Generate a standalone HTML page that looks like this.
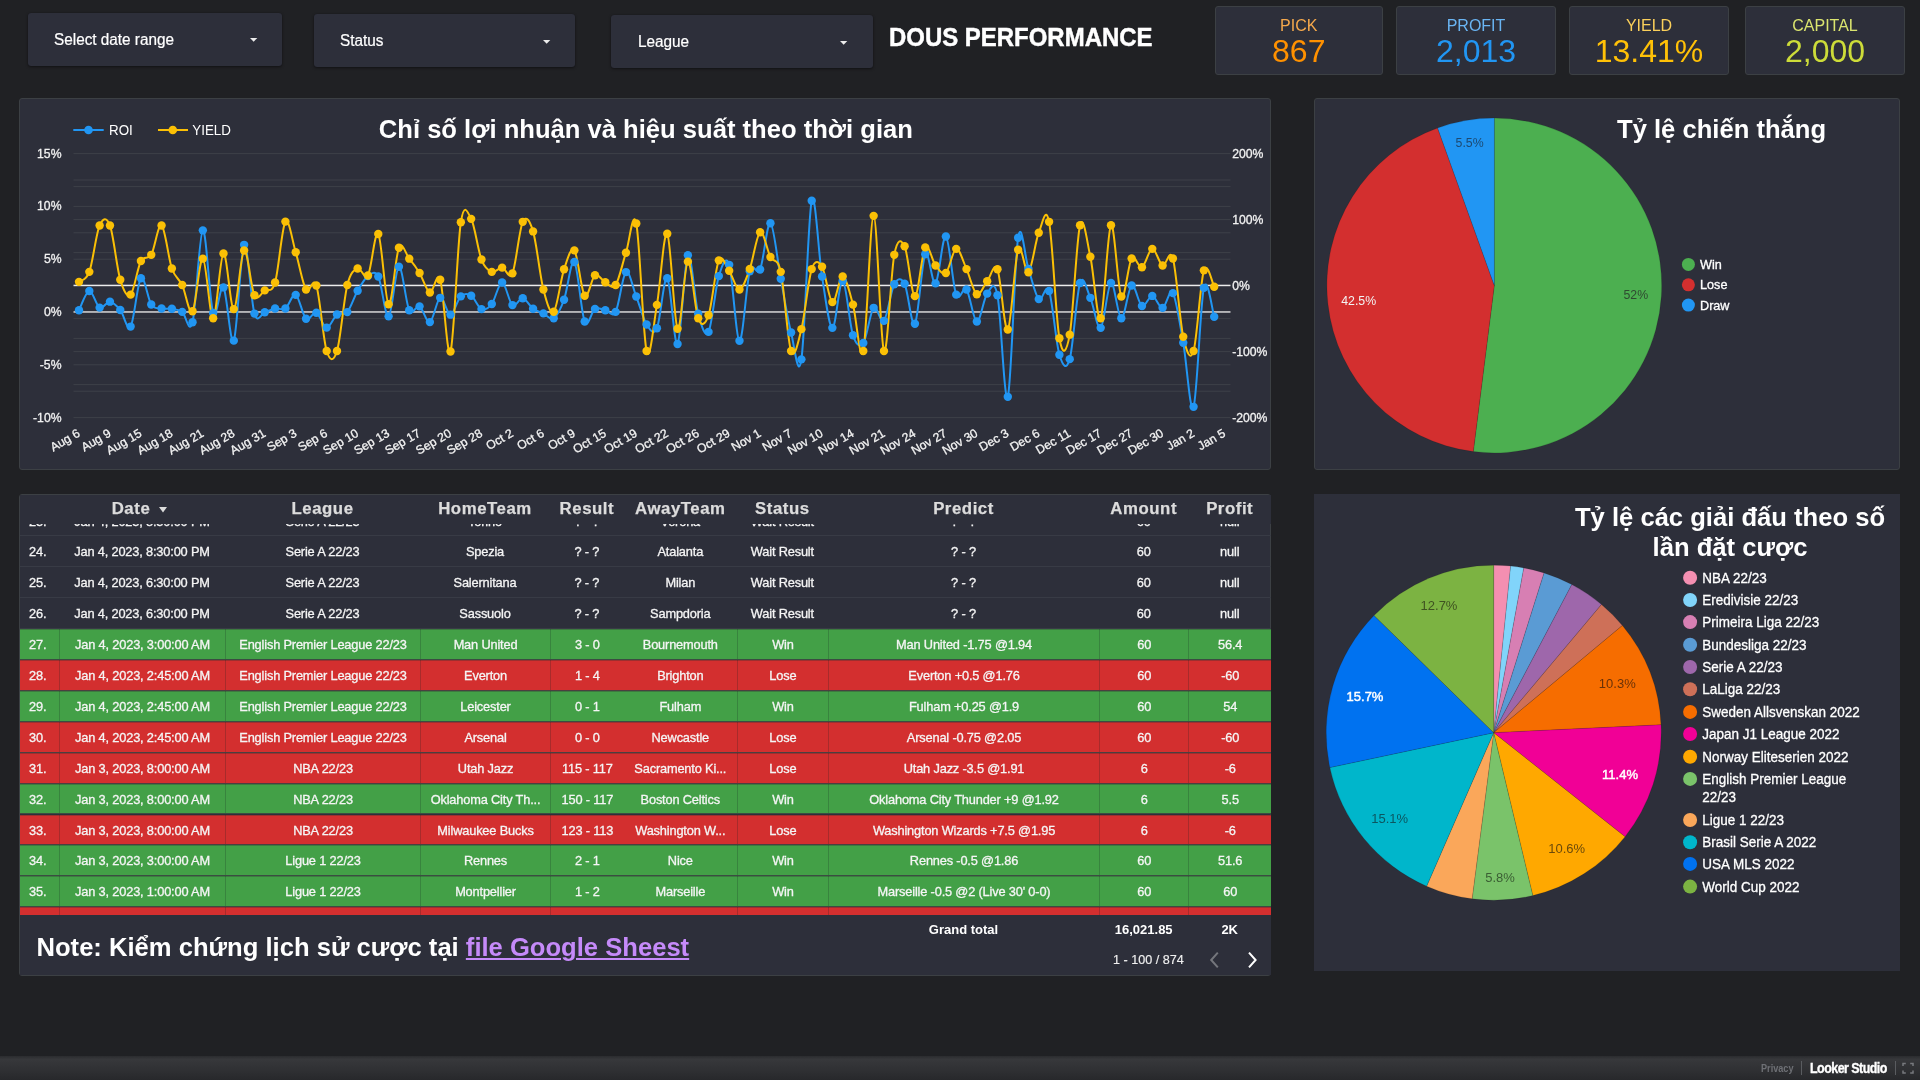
<!DOCTYPE html>
<html><head><meta charset="utf-8"><title>DOUS PERFORMANCE</title>
<style>
html,body{margin:0;padding:0;background:#202124;}
body{width:1920px;height:1080px;position:relative;overflow:hidden;font-family:"Liberation Sans", sans-serif;color:#fff;}
.abs{position:absolute;}
.panel{position:absolute;background:#2d2f3a;box-sizing:border-box;border:1px solid #3c4044;border-radius:3px;}
.dd{position:absolute;background:#2d2f3a;border-radius:3px;box-shadow:0 1px 3px rgba(0,0,0,.45),0 0 1px rgba(0,0,0,.4);height:53px;}
.dd span{position:absolute;font-size:15.6px;white-space:nowrap;color:#fff;transform-origin:0 50%;transform:scaleX(.982);-webkit-text-stroke:.2px #fff;}
.dd i{position:absolute;width:0;height:0;border-left:3.6px solid transparent;border-right:3.6px solid transparent;border-top:3.8px solid #e8e8e8;}
.card{position:absolute;top:6px;height:69px;background:#2d2f3a;box-sizing:border-box;border:1px solid #3c4044;border-radius:3px;text-align:center;}
.card .l{position:absolute;left:0;right:0;top:10px;font-size:16px;line-height:18px;}
.card .v{position:absolute;left:0;right:0;top:26.2px;font-size:32px;line-height:36px;}
.title{position:absolute;font-weight:700;font-size:25.6px;white-space:nowrap;color:#fff;line-height:30px;}
svg text{font-family:"Liberation Sans", sans-serif;}
.sb{-webkit-text-stroke:.3px currentColor;}
/* table */
#tbl{position:absolute;left:20px;top:495px;width:1251px;height:420px;overflow:hidden;}
.row{position:absolute;left:0;width:1251px;height:29.9px;border-bottom:1px solid #383b45;box-sizing:content-box;}
.row.g{background:#43a047;border-bottom-color:#3b4c42;box-shadow:inset 0 1px 0 rgba(45,50,50,.33);}
.row.r{background:#d32f2f;border-bottom-color:#4a3f40;box-shadow:inset 0 1px 0 rgba(45,50,50,.33);}
.c{position:absolute;top:0;height:29.9px;line-height:31.6px;font-size:12.8px;letter-spacing:-.17px;text-align:center;white-space:nowrap;overflow:hidden;color:#f5f5f5;-webkit-text-stroke:.3px #f5f5f5;box-sizing:border-box;}
.row.g .c,.row.r .c{border-left:1px solid rgba(20,30,30,.22);}
.row .c:first-child{border-left:none;text-align:left;padding-left:9px;}
#thead{position:absolute;left:20px;top:495px;width:1251px;height:29.2px;background:#2d2f3a;z-index:3;}
.h{position:absolute;top:0;height:28px;line-height:28px;font-size:16.8px;letter-spacing:.55px;font-weight:700;color:#dcdcdc;-webkit-text-stroke:.25px #dcdcdc;text-align:center;white-space:nowrap;}
</style></head><body><div id="root" style="position:absolute;left:0;top:0;width:1920px;height:1080px;will-change:transform">

<div class="dd" style="left:28px;top:13px;width:254px"><span style="left:25.9px;top:16.5px;line-height:20px">Select date range</span><svg style="position:absolute;left:221px;top:24px" width="10" height="7" viewBox="0 0 10 7"><path d="M1,1H8.3L4.65,4.7Z" fill="#ececec"/></svg></div>
<div class="dd" style="left:314px;top:14px;width:261px"><span style="left:25.600000000000023px;top:16.5px;line-height:20px">Status</span><svg style="position:absolute;left:227.5px;top:25px" width="10" height="7" viewBox="0 0 10 7"><path d="M1,1H8.3L4.65,4.7Z" fill="#ececec"/></svg></div>
<div class="dd" style="left:611px;top:15px;width:261.5px"><span style="left:27px;top:16.5px;line-height:20px">League</span><svg style="position:absolute;left:227.70000000000005px;top:25px" width="10" height="7" viewBox="0 0 10 7"><path d="M1,1H8.3L4.65,4.7Z" fill="#ececec"/></svg></div>
<div class="abs" style="left:889.3px;top:21.5px;font-size:25.2px;line-height:30px;font-weight:700;white-space:nowrap;transform-origin:0 50%;transform:scaleX(.951);-webkit-text-stroke:.45px #fff">DOUS PERFORMANCE</div>
<div class="card" style="left:1215px;width:167.5px"><div class="l" style="color:#f6a94c">PICK</div><div class="v" style="color:#ff9100">867</div></div>
<div class="card" style="left:1396px;width:160px"><div class="l" style="color:#6ab5f3">PROFIT</div><div class="v" style="color:#2196f3">2,013</div></div>
<div class="card" style="left:1569px;width:160px"><div class="l" style="color:#fbd05a">YIELD</div><div class="v" style="color:#ffc107">13.41%</div></div>
<div class="card" style="left:1745px;width:160px"><div class="l" style="color:#dbe56f">CAPITAL</div><div class="v" style="color:#cddc39">2,000</div></div>
<div class="panel" style="left:19px;top:98px;width:1252.4px;height:372px"></div>
<div class="panel" style="left:1314px;top:98px;width:586px;height:372px"></div>
<div class="panel" style="left:19px;top:494px;width:1252.4px;height:481.5px"></div>
<div class="abs" style="left:1314px;top:494px;width:586px;height:477px;background:#2d2f3a"></div>
<div class="title" style="left:378.8px;top:114.3px">Chỉ số lợi nhuận và hiệu suất theo thời gian</div>
<div class="title" style="left:1617px;top:114.3px">Tỷ lệ chiến thắng</div>
<div class="title" style="left:1560px;top:502px;width:340px;text-align:center;white-space:normal;line-height:30px">Tỷ lệ các giải đấu theo số<br>lần đặt cược</div>
<svg class="abs" style="left:0;top:0" width="1920" height="1080" viewBox="0 0 1920 1080">
<rect x="73.5" y="179.5" width="1157.0" height="1" fill="#3e4149"/>
<rect x="73.5" y="186.1" width="1157.0" height="1" fill="#3e4149"/>
<rect x="73.5" y="232.3" width="1157.0" height="1" fill="#3e4149"/>
<rect x="73.5" y="252.1" width="1157.0" height="1" fill="#3e4149"/>
<rect x="73.5" y="318.1" width="1157.0" height="1" fill="#3e4149"/>
<rect x="73.5" y="337.9" width="1157.0" height="1" fill="#3e4149"/>
<rect x="73.5" y="384.1" width="1157.0" height="1" fill="#3e4149"/>
<rect x="73.5" y="390.7" width="1157.0" height="1" fill="#3e4149"/>
<rect x="73.5" y="153.1" width="1157.0" height="1" fill="#3e4149"/>
<rect x="73.5" y="205.9" width="1157.0" height="1" fill="#3e4149"/>
<rect x="73.5" y="219.1" width="1157.0" height="1" fill="#3e4149"/>
<rect x="73.5" y="258.7" width="1157.0" height="1" fill="#3e4149"/>
<rect x="73.5" y="351.1" width="1157.0" height="1" fill="#3e4149"/>
<rect x="73.5" y="364.3" width="1157.0" height="1" fill="#3e4149"/>
<rect x="73.5" y="417.1" width="1157.0" height="1" fill="#3e4149"/>
<rect x="73.5" y="284.7" width="1157.0" height="1.5" fill="#ececec"/>
<rect x="73.5" y="311.1" width="1157.0" height="1.7" fill="#c4c4c6"/>
<path d="M79.0,310.19C80.72,307.00 85.88,291.46 89.32,291.03C92.76,290.60 96.20,305.86 99.64,307.63C103.08,309.40 106.52,301.28 109.96,301.67C113.40,302.06 116.84,305.82 120.28,309.97C123.72,314.12 127.16,331.87 130.6,326.58C134.04,321.29 137.48,281.94 140.92,278.25C144.36,274.56 147.80,299.40 151.24,304.44C154.68,309.48 158.12,307.77 161.56,308.48C165.00,309.19 168.44,308.13 171.88,308.7C175.32,309.27 178.76,309.62 182.2,311.89C185.64,314.16 189.08,335.91 192.52,322.32C195.96,308.73 199.40,231.91 202.84,230.35C206.28,228.79 209.72,303.44 213.16,312.95C216.60,322.46 220.04,282.80 223.48,287.41C226.92,292.02 230.36,347.73 233.8,340.63C237.24,333.53 240.68,249.34 244.12,244.83C247.56,240.32 251.00,302.34 254.44,313.59C257.88,324.84 261.32,313.17 264.76,312.32C268.20,311.47 271.64,309.12 275.08,308.48C278.52,307.84 281.96,310.75 285.4,308.48C288.84,306.21 292.28,293.16 295.72,294.86C299.16,296.56 302.60,315.72 306.04,318.7C309.48,321.68 312.92,311.25 316.36,312.74C319.80,314.23 323.24,327.36 326.68,327.64C330.12,327.92 333.56,317.03 337.0,314.44C340.44,311.85 343.88,316.04 347.32,312.1C350.76,308.16 354.20,296.81 357.64,290.81C361.08,284.81 364.52,278.50 367.96,276.12C371.40,273.74 374.84,269.84 378.28,276.55C381.72,283.26 385.16,317.99 388.6,316.36C392.04,314.73 395.48,267.78 398.92,266.75C402.36,265.72 405.80,303.59 409.24,310.19C412.68,316.79 416.12,304.36 419.56,306.35C423.00,308.34 426.44,323.53 429.88,322.11C433.32,320.69 436.76,299.08 440.2,297.84C443.64,296.60 447.08,314.91 450.52,314.66C453.96,314.41 457.40,299.51 460.84,296.35C464.28,293.19 467.72,293.58 471.16,295.71C474.60,297.84 478.04,307.74 481.48,309.12C484.92,310.50 488.36,308.44 491.8,304.01C495.24,299.57 498.68,282.33 502.12,282.51C505.56,282.69 509.00,302.45 512.44,305.08C515.88,307.70 519.32,297.66 522.76,298.26C526.20,298.86 529.64,306.18 533.08,308.7C536.52,311.22 539.96,311.78 543.4,313.38C546.84,314.98 550.28,320.55 553.72,318.28C557.16,316.01 560.60,309.12 564.04,299.75C567.48,290.38 570.92,258.45 574.36,262.07C577.80,265.69 581.24,313.66 584.68,321.47C588.12,329.28 591.56,310.79 595.0,308.91C598.44,307.03 601.88,309.69 605.32,310.19C608.76,310.69 612.20,318.24 615.64,311.89C619.08,305.54 622.52,274.63 625.96,272.08C629.40,269.52 632.84,287.83 636.28,296.56C639.72,305.29 643.16,319.16 646.6,324.45C650.04,329.74 653.48,335.98 656.92,328.28C660.36,320.58 663.80,275.62 667.24,278.25C670.68,280.88 674.12,347.87 677.56,344.04C681.00,340.21 684.44,260.30 687.88,255.26C691.32,250.22 694.76,301.04 698.2,313.81C701.64,326.58 705.08,338.18 708.52,331.9C711.96,325.62 715.40,287.30 718.84,276.12C722.28,264.94 725.72,254.05 729.16,264.84C732.60,275.63 736.04,339.77 739.48,340.84C742.92,341.90 746.36,283.12 749.8,271.23C753.24,259.34 756.68,277.50 760.12,269.52C763.56,261.53 767.00,221.79 770.44,223.32C773.88,224.85 777.32,260.48 780.76,278.68C784.20,296.88 787.64,319.09 791.08,332.54C794.52,345.99 797.96,381.34 801.4,359.37C804.84,337.40 808.28,214.55 811.72,200.75C815.16,186.95 818.60,255.37 822.04,276.55C825.48,297.74 828.92,327.15 832.36,327.86C835.80,328.57 839.24,279.57 842.68,280.81C846.12,282.05 849.56,324.95 853.0,335.31C856.44,345.67 859.88,347.55 863.32,342.97C866.76,338.39 870.20,311.53 873.64,307.84C877.08,304.15 880.52,324.77 883.96,320.83C887.40,316.89 890.84,290.38 894.28,284.21C897.72,278.04 901.16,277.19 904.6,283.79C908.04,290.39 911.48,328.74 914.92,323.81C918.36,318.88 921.80,260.93 925.24,254.19C928.68,247.45 932.12,286.31 935.56,283.36C939.00,280.42 942.44,234.64 945.88,236.52C949.32,238.40 952.76,285.81 956.2,294.64C959.64,303.47 963.08,285.06 966.52,289.53C969.96,294.00 973.40,320.80 976.84,321.47C980.28,322.15 983.72,297.94 987.16,293.58C990.60,289.21 994.04,278.07 997.48,295.28C1000.92,312.49 1004.36,406.42 1007.8,396.84C1011.24,387.26 1014.68,259.13 1018.12,237.8C1021.56,216.47 1025.00,258.66 1028.44,268.88C1031.88,279.10 1035.32,295.43 1038.76,299.12C1042.20,302.81 1045.64,281.77 1049.08,291.03C1052.52,300.29 1055.96,343.33 1059.4,354.68C1062.84,366.03 1066.28,371.11 1069.72,359.15C1073.16,347.19 1076.60,293.15 1080.04,282.93C1083.48,272.71 1086.92,290.35 1090.36,297.84C1093.80,305.33 1097.24,330.35 1100.68,327.86C1104.12,325.38 1107.56,284.53 1111.0,282.93C1114.44,281.33 1117.88,317.85 1121.32,318.28C1124.76,318.71 1128.20,287.55 1131.64,285.49C1135.08,283.43 1138.52,304.19 1141.96,305.93C1145.40,307.67 1148.84,295.60 1152.28,295.92C1155.72,296.24 1159.16,308.30 1162.6,307.84C1166.04,307.38 1169.48,287.33 1172.92,293.15C1176.36,298.97 1179.80,323.81 1183.24,342.76C1186.68,361.71 1190.12,416.00 1193.56,406.84C1197.00,397.68 1200.44,302.84 1203.88,287.83C1207.32,272.82 1212.48,311.96 1214.2,316.79" fill="none" stroke="#2196f3" stroke-width="2" stroke-linejoin="round"/>
<path d="M79.0,281.87C80.72,280.20 85.88,281.26 89.32,271.86C92.76,262.46 96.20,233.19 99.64,225.45C103.08,217.71 106.52,216.40 109.96,225.45C113.40,234.50 116.84,268.21 120.28,279.74C123.72,291.27 127.16,297.76 130.6,294.64C134.04,291.52 137.48,267.64 140.92,261.01C144.36,254.38 147.80,260.76 151.24,254.83C154.68,248.90 158.12,223.18 161.56,225.45C165.00,227.72 168.44,258.52 171.88,268.46C175.32,278.39 178.76,277.93 182.2,285.06C185.64,292.19 189.08,315.65 192.52,311.25C195.96,306.85 199.40,257.49 202.84,258.66C206.28,259.83 209.72,319.13 213.16,318.28C216.60,317.43 220.04,255.08 223.48,253.55C226.92,252.02 230.36,309.62 233.8,309.12C237.24,308.62 240.68,252.88 244.12,250.57C247.56,248.26 251.00,288.64 254.44,295.28C257.88,301.92 261.32,292.52 264.76,290.39C268.20,288.26 271.64,293.97 275.08,282.51C278.52,271.05 281.96,226.66 285.4,221.62C288.84,216.58 292.28,240.96 295.72,252.28C299.16,263.60 302.60,283.99 306.04,289.53C309.48,295.06 312.92,275.24 316.36,285.49C319.80,295.75 323.24,340.13 326.68,351.06C330.12,361.99 333.56,362.06 337.0,351.06C340.44,340.06 343.88,298.83 347.32,285.06C350.76,271.29 354.20,270.06 357.64,268.46C361.08,266.86 364.52,281.23 367.96,275.48C371.40,269.73 374.84,229.18 378.28,233.97C381.72,238.76 385.16,301.92 388.6,304.23C392.04,306.54 395.48,255.41 398.92,247.81C402.36,240.22 405.80,254.47 409.24,258.66C412.68,262.85 416.12,267.29 419.56,272.93C423.00,278.57 426.44,291.38 429.88,292.52C433.32,293.65 436.76,269.91 440.2,279.74C443.64,289.57 447.08,361.07 450.52,351.49C453.96,341.91 457.40,244.37 460.84,222.26C464.28,200.15 467.72,212.64 471.16,218.85C474.60,225.06 478.04,250.68 481.48,259.52C484.92,268.35 488.36,270.51 491.8,271.86C495.24,273.21 498.68,267.36 502.12,267.61C505.56,267.86 509.00,280.98 512.44,273.35C515.88,265.72 519.32,228.82 522.76,221.83C526.20,214.84 529.64,220.13 533.08,231.41C536.52,242.69 539.96,276.15 543.4,289.53C546.84,302.91 550.28,315.05 553.72,311.68C557.16,308.31 560.60,279.53 564.04,269.31C567.48,259.09 570.92,245.96 574.36,250.36C577.80,254.76 581.24,291.56 584.68,295.71C588.12,299.86 591.56,277.50 595.0,275.27C598.44,273.03 601.88,280.67 605.32,282.3C608.76,283.93 612.20,289.99 615.64,285.06C619.08,280.13 622.52,262.95 625.96,252.7C629.40,242.45 632.84,207.15 636.28,223.54C639.72,239.93 643.16,337.51 646.6,351.06C650.04,364.61 653.48,324.41 656.92,304.86C660.36,285.31 663.80,229.78 667.24,233.75C670.68,237.72 674.12,324.06 677.56,328.71C681.00,333.36 684.44,263.38 687.88,261.64C691.32,259.90 694.76,309.34 698.2,318.28C701.64,327.22 705.08,324.95 708.52,315.3C711.96,305.65 715.40,267.79 718.84,260.37C722.28,252.95 725.72,265.94 729.16,270.8C732.60,275.66 736.04,289.85 739.48,289.53C742.92,289.21 746.36,278.43 749.8,268.88C753.24,259.33 756.68,234.25 760.12,232.26C763.56,230.27 767.00,250.36 770.44,256.96C773.88,263.56 777.32,256.18 780.76,271.86C784.20,287.54 787.64,341.51 791.08,351.06C794.52,360.61 797.96,342.79 801.4,329.13C804.84,315.47 808.28,279.50 811.72,269.1C815.16,258.70 818.60,261.25 822.04,266.75C825.48,272.25 828.92,300.47 832.36,302.1C835.80,303.73 839.24,276.12 842.68,276.55C846.12,276.98 849.56,292.23 853.0,304.65C856.44,317.07 859.88,365.86 863.32,351.06C866.76,336.26 870.20,215.87 873.64,215.87C877.08,215.87 880.52,344.57 883.96,351.06C887.40,357.55 890.84,272.29 894.28,254.83C897.72,237.37 901.16,239.44 904.6,246.32C908.04,253.20 911.48,295.95 914.92,296.13C918.36,296.31 921.80,252.49 925.24,247.38C928.68,242.27 932.12,261.22 935.56,265.48C939.00,269.74 942.44,275.70 945.88,272.93C949.32,270.16 952.76,249.51 956.2,248.87C959.64,248.23 963.08,261.54 966.52,269.1C969.96,276.66 973.40,292.20 976.84,294.22C980.28,296.24 983.72,285.38 987.16,281.23C990.60,277.08 994.04,261.25 997.48,269.31C1000.92,277.37 1004.36,332.82 1007.8,329.56C1011.24,326.30 1014.68,259.26 1018.12,249.72C1021.56,240.18 1025.00,275.13 1028.44,272.29C1031.88,269.45 1035.32,241.10 1038.76,232.69C1042.20,224.28 1045.64,204.23 1049.08,221.83C1052.52,239.43 1055.96,319.48 1059.4,338.29C1062.84,357.10 1066.28,353.51 1069.72,334.67C1073.16,315.83 1076.60,238.23 1080.04,225.24C1083.48,212.25 1086.92,241.24 1090.36,256.75C1093.80,272.26 1097.24,323.53 1100.68,318.28C1104.12,313.03 1107.56,228.86 1111.0,225.24C1114.44,221.62 1117.88,291.02 1121.32,296.56C1124.76,302.10 1128.20,263.35 1131.64,258.45C1135.08,253.55 1138.52,268.78 1141.96,267.18C1145.40,265.58 1148.84,249.15 1152.28,248.87C1155.72,248.59 1159.16,263.88 1162.6,265.48C1166.04,267.08 1169.48,246.56 1172.92,258.45C1176.36,270.34 1179.80,321.37 1183.24,336.8C1186.68,352.24 1190.12,362.13 1193.56,351.06C1197.00,339.99 1200.44,281.09 1203.88,270.37C1207.32,259.65 1212.48,284.04 1214.2,286.77" fill="none" stroke="#fbc005" stroke-width="2" stroke-linejoin="round"/>
<g fill="#2196f3"><circle cx="79.0" cy="310.19" r="4.2"/><circle cx="89.32" cy="291.03" r="4.2"/><circle cx="99.64" cy="307.63" r="4.2"/><circle cx="109.96" cy="301.67" r="4.2"/><circle cx="120.28" cy="309.97" r="4.2"/><circle cx="130.6" cy="326.58" r="4.2"/><circle cx="140.92" cy="278.25" r="4.2"/><circle cx="151.24" cy="304.44" r="4.2"/><circle cx="161.56" cy="308.48" r="4.2"/><circle cx="171.88" cy="308.7" r="4.2"/><circle cx="182.2" cy="311.89" r="4.2"/><circle cx="192.52" cy="322.32" r="4.2"/><circle cx="202.84" cy="230.35" r="4.2"/><circle cx="213.16" cy="312.95" r="4.2"/><circle cx="223.48" cy="287.41" r="4.2"/><circle cx="233.8" cy="340.63" r="4.2"/><circle cx="244.12" cy="244.83" r="4.2"/><circle cx="254.44" cy="313.59" r="4.2"/><circle cx="264.76" cy="312.32" r="4.2"/><circle cx="275.08" cy="308.48" r="4.2"/><circle cx="285.4" cy="308.48" r="4.2"/><circle cx="295.72" cy="294.86" r="4.2"/><circle cx="306.04" cy="318.7" r="4.2"/><circle cx="316.36" cy="312.74" r="4.2"/><circle cx="326.68" cy="327.64" r="4.2"/><circle cx="337.0" cy="314.44" r="4.2"/><circle cx="347.32" cy="312.1" r="4.2"/><circle cx="357.64" cy="290.81" r="4.2"/><circle cx="367.96" cy="276.12" r="4.2"/><circle cx="378.28" cy="276.55" r="4.2"/><circle cx="388.6" cy="316.36" r="4.2"/><circle cx="398.92" cy="266.75" r="4.2"/><circle cx="409.24" cy="310.19" r="4.2"/><circle cx="419.56" cy="306.35" r="4.2"/><circle cx="429.88" cy="322.11" r="4.2"/><circle cx="440.2" cy="297.84" r="4.2"/><circle cx="450.52" cy="314.66" r="4.2"/><circle cx="460.84" cy="296.35" r="4.2"/><circle cx="471.16" cy="295.71" r="4.2"/><circle cx="481.48" cy="309.12" r="4.2"/><circle cx="491.8" cy="304.01" r="4.2"/><circle cx="502.12" cy="282.51" r="4.2"/><circle cx="512.44" cy="305.08" r="4.2"/><circle cx="522.76" cy="298.26" r="4.2"/><circle cx="533.08" cy="308.7" r="4.2"/><circle cx="543.4" cy="313.38" r="4.2"/><circle cx="553.72" cy="318.28" r="4.2"/><circle cx="564.04" cy="299.75" r="4.2"/><circle cx="574.36" cy="262.07" r="4.2"/><circle cx="584.68" cy="321.47" r="4.2"/><circle cx="595.0" cy="308.91" r="4.2"/><circle cx="605.32" cy="310.19" r="4.2"/><circle cx="615.64" cy="311.89" r="4.2"/><circle cx="625.96" cy="272.08" r="4.2"/><circle cx="636.28" cy="296.56" r="4.2"/><circle cx="646.6" cy="324.45" r="4.2"/><circle cx="656.92" cy="328.28" r="4.2"/><circle cx="667.24" cy="278.25" r="4.2"/><circle cx="677.56" cy="344.04" r="4.2"/><circle cx="687.88" cy="255.26" r="4.2"/><circle cx="698.2" cy="313.81" r="4.2"/><circle cx="708.52" cy="331.9" r="4.2"/><circle cx="718.84" cy="276.12" r="4.2"/><circle cx="729.16" cy="264.84" r="4.2"/><circle cx="739.48" cy="340.84" r="4.2"/><circle cx="749.8" cy="271.23" r="4.2"/><circle cx="760.12" cy="269.52" r="4.2"/><circle cx="770.44" cy="223.32" r="4.2"/><circle cx="780.76" cy="278.68" r="4.2"/><circle cx="791.08" cy="332.54" r="4.2"/><circle cx="801.4" cy="359.37" r="4.2"/><circle cx="811.72" cy="200.75" r="4.2"/><circle cx="822.04" cy="276.55" r="4.2"/><circle cx="832.36" cy="327.86" r="4.2"/><circle cx="842.68" cy="280.81" r="4.2"/><circle cx="853.0" cy="335.31" r="4.2"/><circle cx="863.32" cy="342.97" r="4.2"/><circle cx="873.64" cy="307.84" r="4.2"/><circle cx="883.96" cy="320.83" r="4.2"/><circle cx="894.28" cy="284.21" r="4.2"/><circle cx="904.6" cy="283.79" r="4.2"/><circle cx="914.92" cy="323.81" r="4.2"/><circle cx="925.24" cy="254.19" r="4.2"/><circle cx="935.56" cy="283.36" r="4.2"/><circle cx="945.88" cy="236.52" r="4.2"/><circle cx="956.2" cy="294.64" r="4.2"/><circle cx="966.52" cy="289.53" r="4.2"/><circle cx="976.84" cy="321.47" r="4.2"/><circle cx="987.16" cy="293.58" r="4.2"/><circle cx="997.48" cy="295.28" r="4.2"/><circle cx="1007.8" cy="396.84" r="4.2"/><circle cx="1018.12" cy="237.8" r="4.2"/><circle cx="1028.44" cy="268.88" r="4.2"/><circle cx="1038.76" cy="299.12" r="4.2"/><circle cx="1049.08" cy="291.03" r="4.2"/><circle cx="1059.4" cy="354.68" r="4.2"/><circle cx="1069.72" cy="359.15" r="4.2"/><circle cx="1080.04" cy="282.93" r="4.2"/><circle cx="1090.36" cy="297.84" r="4.2"/><circle cx="1100.68" cy="327.86" r="4.2"/><circle cx="1111.0" cy="282.93" r="4.2"/><circle cx="1121.32" cy="318.28" r="4.2"/><circle cx="1131.64" cy="285.49" r="4.2"/><circle cx="1141.96" cy="305.93" r="4.2"/><circle cx="1152.28" cy="295.92" r="4.2"/><circle cx="1162.6" cy="307.84" r="4.2"/><circle cx="1172.92" cy="293.15" r="4.2"/><circle cx="1183.24" cy="342.76" r="4.2"/><circle cx="1193.56" cy="406.84" r="4.2"/><circle cx="1203.88" cy="287.83" r="4.2"/><circle cx="1214.2" cy="316.79" r="4.2"/></g>
<g fill="#fbc005"><circle cx="79.0" cy="281.87" r="4.2"/><circle cx="89.32" cy="271.86" r="4.2"/><circle cx="99.64" cy="225.45" r="4.2"/><circle cx="109.96" cy="225.45" r="4.2"/><circle cx="120.28" cy="279.74" r="4.2"/><circle cx="130.6" cy="294.64" r="4.2"/><circle cx="140.92" cy="261.01" r="4.2"/><circle cx="151.24" cy="254.83" r="4.2"/><circle cx="161.56" cy="225.45" r="4.2"/><circle cx="171.88" cy="268.46" r="4.2"/><circle cx="182.2" cy="285.06" r="4.2"/><circle cx="192.52" cy="311.25" r="4.2"/><circle cx="202.84" cy="258.66" r="4.2"/><circle cx="213.16" cy="318.28" r="4.2"/><circle cx="223.48" cy="253.55" r="4.2"/><circle cx="233.8" cy="309.12" r="4.2"/><circle cx="244.12" cy="250.57" r="4.2"/><circle cx="254.44" cy="295.28" r="4.2"/><circle cx="264.76" cy="290.39" r="4.2"/><circle cx="275.08" cy="282.51" r="4.2"/><circle cx="285.4" cy="221.62" r="4.2"/><circle cx="295.72" cy="252.28" r="4.2"/><circle cx="306.04" cy="289.53" r="4.2"/><circle cx="316.36" cy="285.49" r="4.2"/><circle cx="326.68" cy="351.06" r="4.2"/><circle cx="337.0" cy="351.06" r="4.2"/><circle cx="347.32" cy="285.06" r="4.2"/><circle cx="357.64" cy="268.46" r="4.2"/><circle cx="367.96" cy="275.48" r="4.2"/><circle cx="378.28" cy="233.97" r="4.2"/><circle cx="388.6" cy="304.23" r="4.2"/><circle cx="398.92" cy="247.81" r="4.2"/><circle cx="409.24" cy="258.66" r="4.2"/><circle cx="419.56" cy="272.93" r="4.2"/><circle cx="429.88" cy="292.52" r="4.2"/><circle cx="440.2" cy="279.74" r="4.2"/><circle cx="450.52" cy="351.49" r="4.2"/><circle cx="460.84" cy="222.26" r="4.2"/><circle cx="471.16" cy="218.85" r="4.2"/><circle cx="481.48" cy="259.52" r="4.2"/><circle cx="491.8" cy="271.86" r="4.2"/><circle cx="502.12" cy="267.61" r="4.2"/><circle cx="512.44" cy="273.35" r="4.2"/><circle cx="522.76" cy="221.83" r="4.2"/><circle cx="533.08" cy="231.41" r="4.2"/><circle cx="543.4" cy="289.53" r="4.2"/><circle cx="553.72" cy="311.68" r="4.2"/><circle cx="564.04" cy="269.31" r="4.2"/><circle cx="574.36" cy="250.36" r="4.2"/><circle cx="584.68" cy="295.71" r="4.2"/><circle cx="595.0" cy="275.27" r="4.2"/><circle cx="605.32" cy="282.3" r="4.2"/><circle cx="615.64" cy="285.06" r="4.2"/><circle cx="625.96" cy="252.7" r="4.2"/><circle cx="636.28" cy="223.54" r="4.2"/><circle cx="646.6" cy="351.06" r="4.2"/><circle cx="656.92" cy="304.86" r="4.2"/><circle cx="667.24" cy="233.75" r="4.2"/><circle cx="677.56" cy="328.71" r="4.2"/><circle cx="687.88" cy="261.64" r="4.2"/><circle cx="698.2" cy="318.28" r="4.2"/><circle cx="708.52" cy="315.3" r="4.2"/><circle cx="718.84" cy="260.37" r="4.2"/><circle cx="729.16" cy="270.8" r="4.2"/><circle cx="739.48" cy="289.53" r="4.2"/><circle cx="749.8" cy="268.88" r="4.2"/><circle cx="760.12" cy="232.26" r="4.2"/><circle cx="770.44" cy="256.96" r="4.2"/><circle cx="780.76" cy="271.86" r="4.2"/><circle cx="791.08" cy="351.06" r="4.2"/><circle cx="801.4" cy="329.13" r="4.2"/><circle cx="811.72" cy="269.1" r="4.2"/><circle cx="822.04" cy="266.75" r="4.2"/><circle cx="832.36" cy="302.1" r="4.2"/><circle cx="842.68" cy="276.55" r="4.2"/><circle cx="853.0" cy="304.65" r="4.2"/><circle cx="863.32" cy="351.06" r="4.2"/><circle cx="873.64" cy="215.87" r="4.2"/><circle cx="883.96" cy="351.06" r="4.2"/><circle cx="894.28" cy="254.83" r="4.2"/><circle cx="904.6" cy="246.32" r="4.2"/><circle cx="914.92" cy="296.13" r="4.2"/><circle cx="925.24" cy="247.38" r="4.2"/><circle cx="935.56" cy="265.48" r="4.2"/><circle cx="945.88" cy="272.93" r="4.2"/><circle cx="956.2" cy="248.87" r="4.2"/><circle cx="966.52" cy="269.1" r="4.2"/><circle cx="976.84" cy="294.22" r="4.2"/><circle cx="987.16" cy="281.23" r="4.2"/><circle cx="997.48" cy="269.31" r="4.2"/><circle cx="1007.8" cy="329.56" r="4.2"/><circle cx="1018.12" cy="249.72" r="4.2"/><circle cx="1028.44" cy="272.29" r="4.2"/><circle cx="1038.76" cy="232.69" r="4.2"/><circle cx="1049.08" cy="221.83" r="4.2"/><circle cx="1059.4" cy="338.29" r="4.2"/><circle cx="1069.72" cy="334.67" r="4.2"/><circle cx="1080.04" cy="225.24" r="4.2"/><circle cx="1090.36" cy="256.75" r="4.2"/><circle cx="1100.68" cy="318.28" r="4.2"/><circle cx="1111.0" cy="225.24" r="4.2"/><circle cx="1121.32" cy="296.56" r="4.2"/><circle cx="1131.64" cy="258.45" r="4.2"/><circle cx="1141.96" cy="267.18" r="4.2"/><circle cx="1152.28" cy="248.87" r="4.2"/><circle cx="1162.6" cy="265.48" r="4.2"/><circle cx="1172.92" cy="258.45" r="4.2"/><circle cx="1183.24" cy="336.8" r="4.2"/><circle cx="1193.56" cy="351.06" r="4.2"/><circle cx="1203.88" cy="270.37" r="4.2"/><circle cx="1214.2" cy="286.77" r="4.2"/></g>
<text x="61.5" y="158.1" text-anchor="end" font-size="12.2" fill="#f2f2f2" stroke="#f2f2f2" stroke-width=".3">15%</text>
<text x="61.5" y="210.1" text-anchor="end" font-size="12.2" fill="#f2f2f2" stroke="#f2f2f2" stroke-width=".3">10%</text>
<text x="61.5" y="263.1" text-anchor="end" font-size="12.2" fill="#f2f2f2" stroke="#f2f2f2" stroke-width=".3">5%</text>
<text x="61.5" y="316.1" text-anchor="end" font-size="12.2" fill="#f2f2f2" stroke="#f2f2f2" stroke-width=".3">0%</text>
<text x="61.5" y="369.1" text-anchor="end" font-size="12.2" fill="#f2f2f2" stroke="#f2f2f2" stroke-width=".3">-5%</text>
<text x="61.5" y="422.1" text-anchor="end" font-size="12.2" fill="#f2f2f2" stroke="#f2f2f2" stroke-width=".3">-10%</text>
<text x="1232.2" y="158.1" font-size="12.2" fill="#f2f2f2" stroke="#f2f2f2" stroke-width=".3">200%</text>
<text x="1232.2" y="224.1" font-size="12.2" fill="#f2f2f2" stroke="#f2f2f2" stroke-width=".3">100%</text>
<text x="1232.2" y="290.1" font-size="12.2" fill="#f2f2f2" stroke="#f2f2f2" stroke-width=".3">0%</text>
<text x="1232.2" y="356.1" font-size="12.2" fill="#f2f2f2" stroke="#f2f2f2" stroke-width=".3">-100%</text>
<text x="1232.2" y="422.1" font-size="12.2" fill="#f2f2f2" stroke="#f2f2f2" stroke-width=".3">-200%</text>
<text transform="translate(80.80,435.7) rotate(-30)" text-anchor="end" font-size="12.2" fill="#f2f2f2" stroke="#f2f2f2" stroke-width=".3">Aug 6</text>
<text transform="translate(111.76,435.7) rotate(-30)" text-anchor="end" font-size="12.2" fill="#f2f2f2" stroke="#f2f2f2" stroke-width=".3">Aug 9</text>
<text transform="translate(142.72,435.7) rotate(-30)" text-anchor="end" font-size="12.2" fill="#f2f2f2" stroke="#f2f2f2" stroke-width=".3">Aug 15</text>
<text transform="translate(173.68,435.7) rotate(-30)" text-anchor="end" font-size="12.2" fill="#f2f2f2" stroke="#f2f2f2" stroke-width=".3">Aug 18</text>
<text transform="translate(204.64,435.7) rotate(-30)" text-anchor="end" font-size="12.2" fill="#f2f2f2" stroke="#f2f2f2" stroke-width=".3">Aug 21</text>
<text transform="translate(235.60,435.7) rotate(-30)" text-anchor="end" font-size="12.2" fill="#f2f2f2" stroke="#f2f2f2" stroke-width=".3">Aug 28</text>
<text transform="translate(266.56,435.7) rotate(-30)" text-anchor="end" font-size="12.2" fill="#f2f2f2" stroke="#f2f2f2" stroke-width=".3">Aug 31</text>
<text transform="translate(297.52,435.7) rotate(-30)" text-anchor="end" font-size="12.2" fill="#f2f2f2" stroke="#f2f2f2" stroke-width=".3">Sep 3</text>
<text transform="translate(328.48,435.7) rotate(-30)" text-anchor="end" font-size="12.2" fill="#f2f2f2" stroke="#f2f2f2" stroke-width=".3">Sep 6</text>
<text transform="translate(359.44,435.7) rotate(-30)" text-anchor="end" font-size="12.2" fill="#f2f2f2" stroke="#f2f2f2" stroke-width=".3">Sep 10</text>
<text transform="translate(390.40,435.7) rotate(-30)" text-anchor="end" font-size="12.2" fill="#f2f2f2" stroke="#f2f2f2" stroke-width=".3">Sep 13</text>
<text transform="translate(421.36,435.7) rotate(-30)" text-anchor="end" font-size="12.2" fill="#f2f2f2" stroke="#f2f2f2" stroke-width=".3">Sep 17</text>
<text transform="translate(452.32,435.7) rotate(-30)" text-anchor="end" font-size="12.2" fill="#f2f2f2" stroke="#f2f2f2" stroke-width=".3">Sep 20</text>
<text transform="translate(483.28,435.7) rotate(-30)" text-anchor="end" font-size="12.2" fill="#f2f2f2" stroke="#f2f2f2" stroke-width=".3">Sep 28</text>
<text transform="translate(514.24,435.7) rotate(-30)" text-anchor="end" font-size="12.2" fill="#f2f2f2" stroke="#f2f2f2" stroke-width=".3">Oct 2</text>
<text transform="translate(545.20,435.7) rotate(-30)" text-anchor="end" font-size="12.2" fill="#f2f2f2" stroke="#f2f2f2" stroke-width=".3">Oct 6</text>
<text transform="translate(576.16,435.7) rotate(-30)" text-anchor="end" font-size="12.2" fill="#f2f2f2" stroke="#f2f2f2" stroke-width=".3">Oct 9</text>
<text transform="translate(607.12,435.7) rotate(-30)" text-anchor="end" font-size="12.2" fill="#f2f2f2" stroke="#f2f2f2" stroke-width=".3">Oct 15</text>
<text transform="translate(638.08,435.7) rotate(-30)" text-anchor="end" font-size="12.2" fill="#f2f2f2" stroke="#f2f2f2" stroke-width=".3">Oct 19</text>
<text transform="translate(669.04,435.7) rotate(-30)" text-anchor="end" font-size="12.2" fill="#f2f2f2" stroke="#f2f2f2" stroke-width=".3">Oct 22</text>
<text transform="translate(700.00,435.7) rotate(-30)" text-anchor="end" font-size="12.2" fill="#f2f2f2" stroke="#f2f2f2" stroke-width=".3">Oct 26</text>
<text transform="translate(730.96,435.7) rotate(-30)" text-anchor="end" font-size="12.2" fill="#f2f2f2" stroke="#f2f2f2" stroke-width=".3">Oct 29</text>
<text transform="translate(761.92,435.7) rotate(-30)" text-anchor="end" font-size="12.2" fill="#f2f2f2" stroke="#f2f2f2" stroke-width=".3">Nov 1</text>
<text transform="translate(792.88,435.7) rotate(-30)" text-anchor="end" font-size="12.2" fill="#f2f2f2" stroke="#f2f2f2" stroke-width=".3">Nov 7</text>
<text transform="translate(823.84,435.7) rotate(-30)" text-anchor="end" font-size="12.2" fill="#f2f2f2" stroke="#f2f2f2" stroke-width=".3">Nov 10</text>
<text transform="translate(854.80,435.7) rotate(-30)" text-anchor="end" font-size="12.2" fill="#f2f2f2" stroke="#f2f2f2" stroke-width=".3">Nov 14</text>
<text transform="translate(885.76,435.7) rotate(-30)" text-anchor="end" font-size="12.2" fill="#f2f2f2" stroke="#f2f2f2" stroke-width=".3">Nov 21</text>
<text transform="translate(916.72,435.7) rotate(-30)" text-anchor="end" font-size="12.2" fill="#f2f2f2" stroke="#f2f2f2" stroke-width=".3">Nov 24</text>
<text transform="translate(947.68,435.7) rotate(-30)" text-anchor="end" font-size="12.2" fill="#f2f2f2" stroke="#f2f2f2" stroke-width=".3">Nov 27</text>
<text transform="translate(978.64,435.7) rotate(-30)" text-anchor="end" font-size="12.2" fill="#f2f2f2" stroke="#f2f2f2" stroke-width=".3">Nov 30</text>
<text transform="translate(1009.60,435.7) rotate(-30)" text-anchor="end" font-size="12.2" fill="#f2f2f2" stroke="#f2f2f2" stroke-width=".3">Dec 3</text>
<text transform="translate(1040.56,435.7) rotate(-30)" text-anchor="end" font-size="12.2" fill="#f2f2f2" stroke="#f2f2f2" stroke-width=".3">Dec 6</text>
<text transform="translate(1071.52,435.7) rotate(-30)" text-anchor="end" font-size="12.2" fill="#f2f2f2" stroke="#f2f2f2" stroke-width=".3">Dec 11</text>
<text transform="translate(1102.48,435.7) rotate(-30)" text-anchor="end" font-size="12.2" fill="#f2f2f2" stroke="#f2f2f2" stroke-width=".3">Dec 17</text>
<text transform="translate(1133.44,435.7) rotate(-30)" text-anchor="end" font-size="12.2" fill="#f2f2f2" stroke="#f2f2f2" stroke-width=".3">Dec 27</text>
<text transform="translate(1164.40,435.7) rotate(-30)" text-anchor="end" font-size="12.2" fill="#f2f2f2" stroke="#f2f2f2" stroke-width=".3">Dec 30</text>
<text transform="translate(1195.36,435.7) rotate(-30)" text-anchor="end" font-size="12.2" fill="#f2f2f2" stroke="#f2f2f2" stroke-width=".3">Jan 2</text>
<text transform="translate(1226.32,435.7) rotate(-30)" text-anchor="end" font-size="12.2" fill="#f2f2f2" stroke="#f2f2f2" stroke-width=".3">Jan 5</text>
<rect x="73.3" y="129" width="30.4" height="2" fill="#2196f3"/><circle cx="88.5" cy="130" r="4.3" fill="#2196f3"/>
<rect x="158" y="129" width="30" height="2" fill="#fbc005"/><circle cx="172.8" cy="130" r="4.3" fill="#fbc005"/>
<text transform="translate(109,135.2) scale(.88,1)" font-size="15.2" fill="#fff">ROI</text>
<text transform="translate(192.3,135.2) scale(.88,1)" font-size="15.2" fill="#fff">YIELD</text>
<path d="M1494.3,285.5L1494.30,118.10A167.4,167.4 0 1 1 1473.32,451.58Z" fill="#4caf50" stroke="rgba(0,0,0,.22)" stroke-width=".5"/>
<path d="M1494.3,285.5L1473.32,451.58A167.4,167.4 0 0 1 1437.60,128.00Z" fill="#d32f2f" stroke="rgba(0,0,0,.22)" stroke-width=".5"/>
<path d="M1494.3,285.5L1437.60,128.00A167.4,167.4 0 0 1 1494.30,118.10Z" fill="#2196f3" stroke="rgba(0,0,0,.22)" stroke-width=".5"/>
<text x="1635.8" y="298.6" font-size="12.3" text-anchor="middle" fill="#2f4a31">52%</text>
<text x="1358.7" y="304.6" font-size="12.3" text-anchor="middle" fill="#f3f3f3">42.5%</text>
<text x="1469.6" y="146.6" font-size="12.3" text-anchor="middle" fill="#1d4a72">5.5%</text>
<circle cx="1688.4" cy="264.4" r="6.5" fill="#4caf50"/>
<text transform="translate(1700,268.9) scale(1.02,1)" font-size="12.4" fill="#fff" stroke="#fff" stroke-width=".3">Win</text>
<circle cx="1688.4" cy="284.8" r="6.5" fill="#d32f2f"/>
<text transform="translate(1700,289.2) scale(1.02,1)" font-size="12.4" fill="#fff" stroke="#fff" stroke-width=".3">Lose</text>
<circle cx="1688.4" cy="305.1" r="6.5" fill="#2196f3"/>
<text transform="translate(1700,309.6) scale(1.02,1)" font-size="12.4" fill="#fff" stroke="#fff" stroke-width=".3">Draw</text>
<path d="M1493.7,732.7L1493.70,565.20A167.5,167.5 0 0 1 1510.63,566.06Z" fill="#f48fb1" stroke="rgba(0,0,0,.22)" stroke-width=".5"/>
<path d="M1493.7,732.7L1510.63,566.06A167.5,167.5 0 0 1 1523.79,567.93Z" fill="#81d4fa" stroke="rgba(0,0,0,.22)" stroke-width=".5"/>
<path d="M1493.7,732.7L1523.79,567.93A167.5,167.5 0 0 1 1544.07,572.95Z" fill="#d77fb3" stroke="rgba(0,0,0,.22)" stroke-width=".5"/>
<path d="M1493.7,732.7L1544.07,572.95A167.5,167.5 0 0 1 1571.82,584.53Z" fill="#5a9bd4" stroke="rgba(0,0,0,.22)" stroke-width=".5"/>
<path d="M1493.7,732.7L1571.82,584.53A167.5,167.5 0 0 1 1601.48,604.48Z" fill="#9e67ab" stroke="rgba(0,0,0,.22)" stroke-width=".5"/>
<path d="M1493.7,732.7L1601.48,604.48A167.5,167.5 0 0 1 1622.39,625.48Z" fill="#ce7058" stroke="rgba(0,0,0,.22)" stroke-width=".5"/>
<path d="M1493.7,732.7L1622.39,625.48A167.5,167.5 0 0 1 1661.01,724.81Z" fill="#f66d00" stroke="rgba(0,0,0,.22)" stroke-width=".5"/>
<path d="M1493.7,732.7L1661.01,724.81A167.5,167.5 0 0 1 1625.06,836.63Z" fill="#f10096" stroke="rgba(0,0,0,.22)" stroke-width=".5"/>
<path d="M1493.7,732.7L1625.06,836.63A167.5,167.5 0 0 1 1532.80,895.57Z" fill="#ffa800" stroke="rgba(0,0,0,.22)" stroke-width=".5"/>
<path d="M1493.7,732.7L1532.80,895.57A167.5,167.5 0 0 1 1472.13,898.80Z" fill="#7ac36a" stroke="rgba(0,0,0,.22)" stroke-width=".5"/>
<path d="M1493.7,732.7L1472.13,898.80A167.5,167.5 0 0 1 1426.64,886.19Z" fill="#faa75a" stroke="rgba(0,0,0,.22)" stroke-width=".5"/>
<path d="M1493.7,732.7L1426.64,886.19A167.5,167.5 0 0 1 1329.86,767.53Z" fill="#00b6cb" stroke="rgba(0,0,0,.22)" stroke-width=".5"/>
<path d="M1493.7,732.7L1329.86,767.53A167.5,167.5 0 0 1 1374.03,615.51Z" fill="#0072f0" stroke="rgba(0,0,0,.22)" stroke-width=".5"/>
<path d="M1493.7,732.7L1374.03,615.51A167.5,167.5 0 0 1 1493.70,565.20Z" fill="#7cb342" stroke="rgba(0,0,0,.22)" stroke-width=".5"/>
<text x="1439" y="610.2" font-size="13" text-anchor="middle" fill="#3f5221" >12.7%</text>
<text x="1365" y="700.5" font-size="13" text-anchor="middle" fill="#fff" stroke="#fff" stroke-width=".45">15.7%</text>
<text x="1389.7" y="822.8" font-size="13" text-anchor="middle" fill="#0b5660" >15.1%</text>
<text x="1500" y="882.2" font-size="13" text-anchor="middle" fill="#3b5e34" >5.8%</text>
<text x="1566.7" y="852.8" font-size="13" text-anchor="middle" fill="#6b4a0a" >10.6%</text>
<text x="1620" y="778.8" font-size="13" text-anchor="middle" fill="#fff" stroke="#fff" stroke-width=".45">11.4%</text>
<text x="1617.3" y="688.2" font-size="13" text-anchor="middle" fill="#6a3208" >10.3%</text>
<circle cx="1690.1" cy="577.7" r="7" fill="#f48fb1"/>
<text transform="translate(1702.3,582.6) scale(.93,1)" font-size="14.5" fill="#fff" stroke="#fff" stroke-width=".3">NBA 22/23</text>
<circle cx="1690.1" cy="600.0" r="7" fill="#81d4fa"/>
<text transform="translate(1702.3,604.9) scale(.93,1)" font-size="14.5" fill="#fff" stroke="#fff" stroke-width=".3">Eredivisie 22/23</text>
<circle cx="1690.1" cy="622.1" r="7" fill="#d77fb3"/>
<text transform="translate(1702.3,627.0) scale(.93,1)" font-size="14.5" fill="#fff" stroke="#fff" stroke-width=".3">Primeira Liga 22/23</text>
<circle cx="1690.1" cy="644.8" r="7" fill="#5a9bd4"/>
<text transform="translate(1702.3,649.7) scale(.93,1)" font-size="14.5" fill="#fff" stroke="#fff" stroke-width=".3">Bundesliga 22/23</text>
<circle cx="1690.1" cy="667.0" r="7" fill="#9e67ab"/>
<text transform="translate(1702.3,671.9) scale(.93,1)" font-size="14.5" fill="#fff" stroke="#fff" stroke-width=".3">Serie A 22/23</text>
<circle cx="1690.1" cy="689.2" r="7" fill="#ce7058"/>
<text transform="translate(1702.3,694.1) scale(.93,1)" font-size="14.5" fill="#fff" stroke="#fff" stroke-width=".3">LaLiga 22/23</text>
<circle cx="1690.1" cy="711.9" r="7" fill="#f66d00"/>
<text transform="translate(1702.3,716.8) scale(.93,1)" font-size="14.5" fill="#fff" stroke="#fff" stroke-width=".3">Sweden Allsvenskan 2022</text>
<circle cx="1690.1" cy="734.0" r="7" fill="#f10096"/>
<text transform="translate(1702.3,738.9) scale(.93,1)" font-size="14.5" fill="#fff" stroke="#fff" stroke-width=".3">Japan J1 League 2022</text>
<circle cx="1690.1" cy="756.7" r="7" fill="#ffa800"/>
<text transform="translate(1702.3,761.6) scale(.93,1)" font-size="14.5" fill="#fff" stroke="#fff" stroke-width=".3">Norway Eliteserien 2022</text>
<circle cx="1690.1" cy="778.9" r="7" fill="#7ac36a"/>
<text transform="translate(1702.3,783.8) scale(.93,1)" font-size="14.5" fill="#fff" stroke="#fff" stroke-width=".3">English Premier League</text>
<circle cx="1690.1" cy="820.0" r="7" fill="#faa75a"/>
<text transform="translate(1702.3,824.9) scale(.93,1)" font-size="14.5" fill="#fff" stroke="#fff" stroke-width=".3">Ligue 1 22/23</text>
<circle cx="1690.1" cy="842.2" r="7" fill="#00b6cb"/>
<text transform="translate(1702.3,847.1) scale(.93,1)" font-size="14.5" fill="#fff" stroke="#fff" stroke-width=".3">Brasil Serie A 2022</text>
<circle cx="1690.1" cy="863.9" r="7" fill="#0072f0"/>
<text transform="translate(1702.3,868.8) scale(.93,1)" font-size="14.5" fill="#fff" stroke="#fff" stroke-width=".3">USA MLS 2022</text>
<circle cx="1690.1" cy="886.6" r="7" fill="#7cb342"/>
<text transform="translate(1702.3,891.5) scale(.93,1)" font-size="14.5" fill="#fff" stroke="#fff" stroke-width=".3">World Cup 2022</text>
<text transform="translate(1702.3,802.0) scale(.93,1)" font-size="14.5" fill="#fff" stroke="#fff" stroke-width=".3">22/23</text>
</svg>
<div id="tbl">
<div class="row " style="top:10.5px">
<div class="c" style="left:0px;width:39px">23.</div>
<div class="c" style="left:39px;width:166px">Jan 4, 2023, 8:30:00 PM</div>
<div class="c" style="left:205px;width:195px">Serie A 22/23</div>
<div class="c" style="left:400px;width:130px">Torino</div>
<div class="c" style="left:530px;width:73.8px">? - ?</div>
<div class="c" style="left:603.8px;width:113px;border-left:none">Verona</div>
<div class="c" style="left:716.8px;width:91.2px">Wait Result</div>
<div class="c" style="left:808px;width:271px">? - ?</div>
<div class="c" style="left:1079px;width:89.4px">60</div>
<div class="c" style="left:1168.4px;width:82.6px">null</div>
</div>
<div class="row " style="top:41.4px">
<div class="c" style="left:0px;width:39px">24.</div>
<div class="c" style="left:39px;width:166px">Jan 4, 2023, 8:30:00 PM</div>
<div class="c" style="left:205px;width:195px">Serie A 22/23</div>
<div class="c" style="left:400px;width:130px">Spezia</div>
<div class="c" style="left:530px;width:73.8px">? - ?</div>
<div class="c" style="left:603.8px;width:113px;border-left:none">Atalanta</div>
<div class="c" style="left:716.8px;width:91.2px">Wait Result</div>
<div class="c" style="left:808px;width:271px">? - ?</div>
<div class="c" style="left:1079px;width:89.4px">60</div>
<div class="c" style="left:1168.4px;width:82.6px">null</div>
</div>
<div class="row " style="top:72.3px">
<div class="c" style="left:0px;width:39px">25.</div>
<div class="c" style="left:39px;width:166px">Jan 4, 2023, 6:30:00 PM</div>
<div class="c" style="left:205px;width:195px">Serie A 22/23</div>
<div class="c" style="left:400px;width:130px">Salernitana</div>
<div class="c" style="left:530px;width:73.8px">? - ?</div>
<div class="c" style="left:603.8px;width:113px;border-left:none">Milan</div>
<div class="c" style="left:716.8px;width:91.2px">Wait Result</div>
<div class="c" style="left:808px;width:271px">? - ?</div>
<div class="c" style="left:1079px;width:89.4px">60</div>
<div class="c" style="left:1168.4px;width:82.6px">null</div>
</div>
<div class="row " style="top:103.2px">
<div class="c" style="left:0px;width:39px">26.</div>
<div class="c" style="left:39px;width:166px">Jan 4, 2023, 6:30:00 PM</div>
<div class="c" style="left:205px;width:195px">Serie A 22/23</div>
<div class="c" style="left:400px;width:130px">Sassuolo</div>
<div class="c" style="left:530px;width:73.8px">? - ?</div>
<div class="c" style="left:603.8px;width:113px;border-left:none">Sampdoria</div>
<div class="c" style="left:716.8px;width:91.2px">Wait Result</div>
<div class="c" style="left:808px;width:271px">? - ?</div>
<div class="c" style="left:1079px;width:89.4px">60</div>
<div class="c" style="left:1168.4px;width:82.6px">null</div>
</div>
<div class="row g" style="top:134.1px">
<div class="c" style="left:0px;width:39px">27.</div>
<div class="c" style="left:39px;width:166px">Jan 4, 2023, 3:00:00 AM</div>
<div class="c" style="left:205px;width:195px">English Premier League 22/23</div>
<div class="c" style="left:400px;width:130px">Man United</div>
<div class="c" style="left:530px;width:73.8px">3 - 0</div>
<div class="c" style="left:603.8px;width:113px;border-left:none">Bournemouth</div>
<div class="c" style="left:716.8px;width:91.2px">Win</div>
<div class="c" style="left:808px;width:271px">Man United -1.75 @1.94</div>
<div class="c" style="left:1079px;width:89.4px">60</div>
<div class="c" style="left:1168.4px;width:82.6px">56.4</div>
</div>
<div class="row r" style="top:165.0px">
<div class="c" style="left:0px;width:39px">28.</div>
<div class="c" style="left:39px;width:166px">Jan 4, 2023, 2:45:00 AM</div>
<div class="c" style="left:205px;width:195px">English Premier League 22/23</div>
<div class="c" style="left:400px;width:130px">Everton</div>
<div class="c" style="left:530px;width:73.8px">1 - 4</div>
<div class="c" style="left:603.8px;width:113px;border-left:none">Brighton</div>
<div class="c" style="left:716.8px;width:91.2px">Lose</div>
<div class="c" style="left:808px;width:271px">Everton +0.5 @1.76</div>
<div class="c" style="left:1079px;width:89.4px">60</div>
<div class="c" style="left:1168.4px;width:82.6px">-60</div>
</div>
<div class="row g" style="top:195.9px">
<div class="c" style="left:0px;width:39px">29.</div>
<div class="c" style="left:39px;width:166px">Jan 4, 2023, 2:45:00 AM</div>
<div class="c" style="left:205px;width:195px">English Premier League 22/23</div>
<div class="c" style="left:400px;width:130px">Leicester</div>
<div class="c" style="left:530px;width:73.8px">0 - 1</div>
<div class="c" style="left:603.8px;width:113px;border-left:none">Fulham</div>
<div class="c" style="left:716.8px;width:91.2px">Win</div>
<div class="c" style="left:808px;width:271px">Fulham +0.25 @1.9</div>
<div class="c" style="left:1079px;width:89.4px">60</div>
<div class="c" style="left:1168.4px;width:82.6px">54</div>
</div>
<div class="row r" style="top:226.8px">
<div class="c" style="left:0px;width:39px">30.</div>
<div class="c" style="left:39px;width:166px">Jan 4, 2023, 2:45:00 AM</div>
<div class="c" style="left:205px;width:195px">English Premier League 22/23</div>
<div class="c" style="left:400px;width:130px">Arsenal</div>
<div class="c" style="left:530px;width:73.8px">0 - 0</div>
<div class="c" style="left:603.8px;width:113px;border-left:none">Newcastle</div>
<div class="c" style="left:716.8px;width:91.2px">Lose</div>
<div class="c" style="left:808px;width:271px">Arsenal -0.75 @2.05</div>
<div class="c" style="left:1079px;width:89.4px">60</div>
<div class="c" style="left:1168.4px;width:82.6px">-60</div>
</div>
<div class="row r" style="top:257.7px">
<div class="c" style="left:0px;width:39px">31.</div>
<div class="c" style="left:39px;width:166px">Jan 3, 2023, 8:00:00 AM</div>
<div class="c" style="left:205px;width:195px">NBA 22/23</div>
<div class="c" style="left:400px;width:130px">Utah Jazz</div>
<div class="c" style="left:530px;width:73.8px">115 - 117</div>
<div class="c" style="left:603.8px;width:113px;border-left:none">Sacramento Ki...</div>
<div class="c" style="left:716.8px;width:91.2px">Lose</div>
<div class="c" style="left:808px;width:271px">Utah Jazz -3.5 @1.91</div>
<div class="c" style="left:1079px;width:89.4px">6</div>
<div class="c" style="left:1168.4px;width:82.6px">-6</div>
</div>
<div class="row g" style="top:288.6px">
<div class="c" style="left:0px;width:39px">32.</div>
<div class="c" style="left:39px;width:166px">Jan 3, 2023, 8:00:00 AM</div>
<div class="c" style="left:205px;width:195px">NBA 22/23</div>
<div class="c" style="left:400px;width:130px">Oklahoma City Th...</div>
<div class="c" style="left:530px;width:73.8px">150 - 117</div>
<div class="c" style="left:603.8px;width:113px;border-left:none">Boston Celtics</div>
<div class="c" style="left:716.8px;width:91.2px">Win</div>
<div class="c" style="left:808px;width:271px">Oklahoma City Thunder +9 @1.92</div>
<div class="c" style="left:1079px;width:89.4px">6</div>
<div class="c" style="left:1168.4px;width:82.6px">5.5</div>
</div>
<div class="row r" style="top:319.5px">
<div class="c" style="left:0px;width:39px">33.</div>
<div class="c" style="left:39px;width:166px">Jan 3, 2023, 8:00:00 AM</div>
<div class="c" style="left:205px;width:195px">NBA 22/23</div>
<div class="c" style="left:400px;width:130px">Milwaukee Bucks</div>
<div class="c" style="left:530px;width:73.8px">123 - 113</div>
<div class="c" style="left:603.8px;width:113px;border-left:none">Washington W...</div>
<div class="c" style="left:716.8px;width:91.2px">Lose</div>
<div class="c" style="left:808px;width:271px">Washington Wizards +7.5 @1.95</div>
<div class="c" style="left:1079px;width:89.4px">6</div>
<div class="c" style="left:1168.4px;width:82.6px">-6</div>
</div>
<div class="row g" style="top:350.4px">
<div class="c" style="left:0px;width:39px">34.</div>
<div class="c" style="left:39px;width:166px">Jan 3, 2023, 3:00:00 AM</div>
<div class="c" style="left:205px;width:195px">Ligue 1 22/23</div>
<div class="c" style="left:400px;width:130px">Rennes</div>
<div class="c" style="left:530px;width:73.8px">2 - 1</div>
<div class="c" style="left:603.8px;width:113px;border-left:none">Nice</div>
<div class="c" style="left:716.8px;width:91.2px">Win</div>
<div class="c" style="left:808px;width:271px">Rennes -0.5 @1.86</div>
<div class="c" style="left:1079px;width:89.4px">60</div>
<div class="c" style="left:1168.4px;width:82.6px">51.6</div>
</div>
<div class="row g" style="top:381.3px">
<div class="c" style="left:0px;width:39px">35.</div>
<div class="c" style="left:39px;width:166px">Jan 3, 2023, 1:00:00 AM</div>
<div class="c" style="left:205px;width:195px">Ligue 1 22/23</div>
<div class="c" style="left:400px;width:130px">Montpellier</div>
<div class="c" style="left:530px;width:73.8px">1 - 2</div>
<div class="c" style="left:603.8px;width:113px;border-left:none">Marseille</div>
<div class="c" style="left:716.8px;width:91.2px">Win</div>
<div class="c" style="left:808px;width:271px">Marseille -0.5 @2 (Live 30' 0-0)</div>
<div class="c" style="left:1079px;width:89.4px">60</div>
<div class="c" style="left:1168.4px;width:82.6px">60</div>
</div>
<div class="row r" style="top:412.2px">
<div class="c" style="left:0px;width:39px">36.</div>
<div class="c" style="left:39px;width:166px">Jan 2, 2023, 11:00:00 PM</div>
<div class="c" style="left:205px;width:195px">Ligue 1 22/23</div>
<div class="c" style="left:400px;width:130px">Lens</div>
<div class="c" style="left:530px;width:73.8px">1 - 3</div>
<div class="c" style="left:603.8px;width:113px;border-left:none">PSG</div>
<div class="c" style="left:716.8px;width:91.2px">Lose</div>
<div class="c" style="left:808px;width:271px">PSG -0.5 @1.9</div>
<div class="c" style="left:1079px;width:89.4px">60</div>
<div class="c" style="left:1168.4px;width:82.6px">-60</div>
</div>
</div>
<div id="thead">
<div class="h" style="left:0px;width:39px"></div>
<div class="h" style="left:28px;width:166px">Date</div>
<div class="h" style="left:205px;width:195px">League</div>
<div class="h" style="left:400px;width:130px">HomeTeam</div>
<div class="h" style="left:530px;width:73.8px">Result</div>
<div class="h" style="left:603.8px;width:113px">AwayTeam</div>
<div class="h" style="left:716.8px;width:91.2px">Status</div>
<div class="h" style="left:808px;width:271px">Predict</div>
<div class="h" style="left:1079px;width:89.4px">Amount</div>
<div class="h" style="left:1168.4px;width:82.6px">Profit</div>
<svg class="abs" style="left:139.2px;top:11.8px" width="9" height="7" viewBox="0 0 9 7"><path d="M0,0H8L4,5.6Z" fill="#dcdcdc"/></svg>
</div>
<div class="abs" style="left:20px;top:915px;width:1251px;height:60px;background:#2d2f3a;z-index:2"></div>
<div style="position:absolute;z-index:4;white-space:nowrap;text-align:center;left:828px;width:271px;top:921.6px;line-height:16px;font-size:13px;font-weight:700">Grand total</div>
<div style="position:absolute;z-index:4;white-space:nowrap;text-align:center;left:1099px;width:89.4px;top:921.6px;line-height:16px;font-size:13px;font-weight:700">16,021.85</div>
<div style="position:absolute;z-index:4;white-space:nowrap;text-align:center;left:1188.4px;width:82.6px;top:921.6px;line-height:16px;font-size:13px;font-weight:700">2K</div>
<div style="position:absolute;z-index:4;white-space:nowrap;text-align:center;left:1113px;top:952.2px;line-height:16px;font-size:12.6px;color:#f0f0f0;-webkit-text-stroke:.15px #f0f0f0">1 - 100 / 874</div>
<div class="title" style="left:36.5px;top:932px;z-index:4">Note: Kiểm chứng lịch sử cược tại <span style="color:#c58af9;text-decoration:underline;text-decoration-thickness:2px;text-underline-offset:2px">file Google Sheest</span></div>
<svg class="abs" style="left:1200px;top:945px;z-index:5" width="70" height="30" viewBox="1200 945 70 30"><path d="M1217.8,952.6 L1211.2,960 L1217.8,967.4" fill="none" stroke="#74767c" stroke-width="2"/><path d="M1249,952.6 L1255.6,960 L1249,967.4" fill="none" stroke="#fff" stroke-width="2"/></svg>
<div class="abs" style="left:0;top:1056px;width:1920px;height:24px;background:linear-gradient(#2b2c2f,#37383b 14%,#303134 55%,#27282b)"></div>
<div class="abs" style="left:1761px;top:1061px;font-size:10.5px;line-height:14px;color:#6e7075;font-weight:700;transform-origin:0 50%;transform:scaleX(.87)">Privacy</div>
<div class="abs" style="left:1801px;top:1061px;width:1px;height:14px;background:#5a5c60"></div>
<div class="abs" style="left:1809.5px;top:1058.5px;font-size:14.2px;line-height:18px;color:#fff;font-weight:700;letter-spacing:-.6px;-webkit-text-stroke:.35px #fff;transform-origin:0 50%;transform:scaleX(.878)">Looker Studio</div>
<div class="abs" style="left:1895px;top:1061px;width:1px;height:14px;background:#5a5c60"></div>
<svg class="abs" style="left:1901px;top:1061px" width="14" height="14" viewBox="0 0 14 14"><path d="M2,5V2.4H4.8 M9.2,2.4H12V5 M12,9.4V12H9.2 M4.8,12H2V9.4" fill="none" stroke="#77797d" stroke-width="1.5"/></svg>
</div></body></html>
